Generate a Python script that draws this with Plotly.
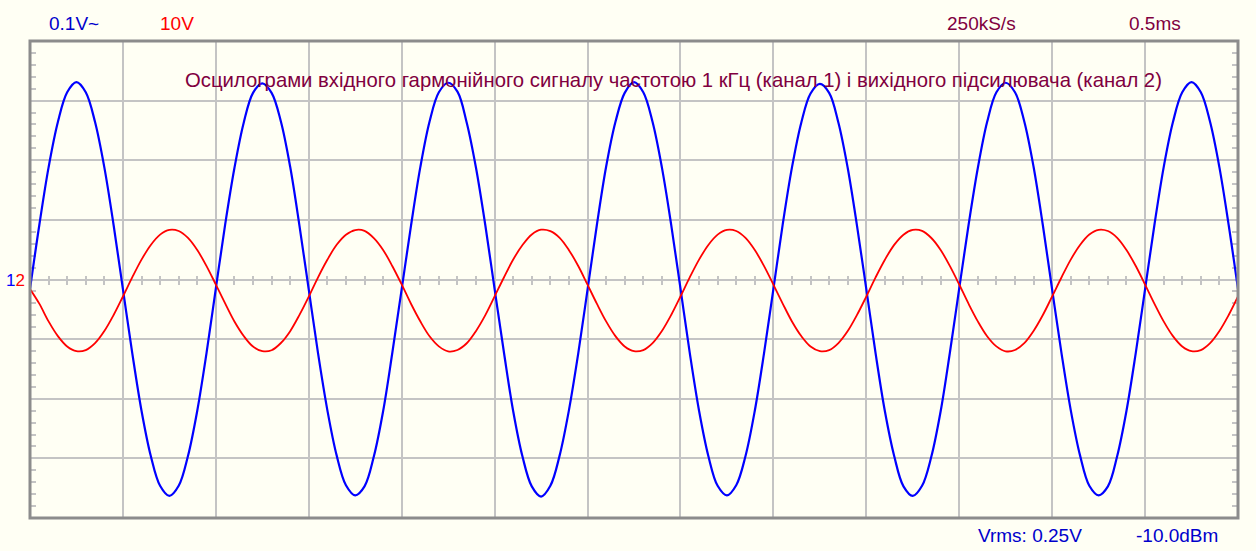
import plotly.graph_objects as go

# time axis (ms), 0.5 ms / div, 13 divisions
time_ms = [
    0.00, 0.05, 0.10, 0.15, 0.20, 0.25, 0.30, 0.35, 0.40, 0.45,
    0.50, 0.55, 0.60, 0.65, 0.70, 0.75, 0.80, 0.85, 0.90, 0.95,
    1.00, 1.05, 1.10, 1.15, 1.20, 1.25, 1.30, 1.35, 1.40, 1.45,
    1.50, 1.55, 1.60, 1.65, 1.70, 1.75, 1.80, 1.85, 1.90, 1.95,
    2.00, 2.05, 2.10, 2.15, 2.20, 2.25, 2.30, 2.35, 2.40, 2.45,
    2.50, 2.55, 2.60, 2.65, 2.70, 2.75, 2.80, 2.85, 2.90, 2.95,
    3.00, 3.05, 3.10, 3.15, 3.20, 3.25, 3.30, 3.35, 3.40, 3.45,
    3.50, 3.55, 3.60, 3.65, 3.70, 3.75, 3.80, 3.85, 3.90, 3.95,
    4.00, 4.05, 4.10, 4.15, 4.20, 4.25, 4.30, 4.35, 4.40, 4.45,
    4.50, 4.55, 4.60, 4.65, 4.70, 4.75, 4.80, 4.85, 4.90, 4.95,
    5.00, 5.05, 5.10, 5.15, 5.20, 5.25, 5.30, 5.35, 5.40, 5.45,
    5.50, 5.55, 5.60, 5.65, 5.70, 5.75, 5.80, 5.85, 5.90, 5.95,
    6.00, 6.05, 6.10, 6.15, 6.20, 6.25, 6.30, 6.35, 6.40, 6.45,
    6.50,
]

# channel 1 (input), volts, 0.1 V/div
ch1_volts = [
    -0.016, 0.091, 0.188, 0.264, 0.314, 0.331, 0.314, 0.264, 0.188, 0.091,
    -0.016, -0.123, -0.220, -0.296, -0.346, -0.363, -0.346, -0.296, -0.220, -0.123,
    -0.015, 0.092, 0.187, 0.263, 0.313, 0.329, 0.313, 0.265, 0.189, 0.090,
    -0.017, -0.124, -0.219, -0.295, -0.345, -0.362, -0.347, -0.297, -0.221, -0.122,
    -0.016, 0.090, 0.188, 0.265, 0.314, 0.330, 0.315, 0.263, 0.187, 0.091,
    -0.016, -0.122, -0.221, -0.297, -0.347, -0.364, -0.346, -0.295, -0.219, -0.124,
    -0.017, 0.091, 0.189, 0.264, 0.313, 0.331, 0.314, 0.264, 0.188, 0.092,
    -0.015, -0.123, -0.220, -0.296, -0.346, -0.362, -0.345, -0.296, -0.220, -0.123,
    -0.016, 0.092, 0.188, 0.263, 0.312, 0.328, 0.313, 0.263, 0.187, 0.090,
    -0.016, -0.124, -0.221, -0.296, -0.347, -0.363, -0.346, -0.297, -0.221, -0.122,
    -0.015, 0.091, 0.187, 0.264, 0.314, 0.330, 0.314, 0.265, 0.189, 0.091,
    -0.017, -0.123, -0.219, -0.295, -0.346, -0.362, -0.347, -0.296, -0.220, -0.123,
    -0.016, 0.091, 0.188, 0.264, 0.314, 0.331, 0.314, 0.264, 0.188, 0.091,
    -0.016,
]

# channel 2 (amplifier output), volts, 10 V/div
ch2_volts = [
    -1.60, -4.05, -7.03, -9.50, -11.23, -12.03, -11.84, -10.67, -8.64, -5.95,
    -2.85, 0.35, 3.33, 5.80, 7.53, 8.33, 8.14, 6.97, 4.94, 2.25,
    -0.85, -4.02, -7.05, -9.48, -11.25, -12.00, -11.86, -10.65, -8.66, -5.93,
    -2.87, 0.37, 3.31, 5.82, 7.51, 8.30, 8.16, 6.95, 4.96, 2.23,
    -0.83, -4.07, -7.01, -9.52, -11.21, -12.05, -11.82, -10.69, -8.62, -5.97,
    -2.83, 0.33, 3.35, 5.78, 7.55, 8.35, 8.12, 6.99, 4.92, 2.27,
    -0.87, -4.05, -7.03, -9.50, -11.23, -12.03, -11.84, -10.67, -8.64, -5.95,
    -2.85, 0.35, 3.33, 5.80, 7.53, 8.33, 8.14, 6.97, 4.94, 2.25,
    -0.85, -4.03, -7.04, -9.49, -11.24, -12.02, -11.85, -10.66, -8.65, -5.94,
    -2.86, 0.36, 3.32, 5.81, 7.52, 8.31, 8.15, 6.96, 4.95, 2.24,
    -0.84, -4.06, -7.02, -9.51, -11.22, -12.04, -11.83, -10.68, -8.63, -5.96,
    -2.84, 0.34, 3.34, 5.79, 7.54, 8.34, 8.13, 6.98, 4.93, 2.26,
    -0.85, -4.05, -7.03, -9.50, -11.23, -12.03, -11.84, -10.67, -8.64, -5.95,
    -2.85,
]

title_text = ("Осцилограми вхідного гармонійного сигналу частотою 1 кГц "
              "(канал 1) і вихідного підсилювача (канал 2)")
ch1_scale_label = "0.1V~"
ch2_scale_label = "10V"
rate_label = "250kS/s"
timebase_label = "0.5ms"
vrms_label = "Vrms: 0.25V"
dbm_label = "-10.0dBm"

BG = "#fffff4"
GRID = "#c4c4c4"
BORDER = "#8c8c8c"
MAROON = "#800040"
FONT = "Liberation Sans"

fig = go.Figure()
fig.add_trace(go.Scatter(x=time_ms, y=ch1_volts, mode="lines",
                         line=dict(color="#0000ff", width=2.2, shape="spline"),
                         xaxis="x", yaxis="y", hoverinfo="skip"))
fig.add_trace(go.Scatter(x=time_ms, y=ch2_volts, mode="lines",
                         line=dict(color="#ff0000", width=1.8, shape="spline"),
                         xaxis="x2", yaxis="y2", hoverinfo="skip"))

tick_common = dict(showticklabels=False, zeroline=False, showline=False,
                   tickcolor=GRID, tickwidth=2, layer="below traces")

fig.update_layout(
    width=1256, height=551, autosize=False,
    margin=dict(l=30, r=18, t=41, b=33),
    paper_bgcolor=BG, plot_bgcolor=BG,
    showlegend=False, hovermode=False,
    xaxis=dict(range=[0, 6.5], dtick=0.5, showgrid=True, gridcolor=GRID,
               gridwidth=2, anchor="free", position=0.5,
               ticks="outside", ticklen=4,
               minor=dict(dtick=0.1, ticks="outside", ticklen=4,
                          tickcolor=GRID, tickwidth=2, showgrid=False),
               **tick_common),
    xaxis2=dict(range=[0, 6.5], dtick=0.5, overlaying="x", showgrid=False,
                anchor="free", position=0.5, ticks="inside", ticklen=4,
                minor=dict(dtick=0.1, ticks="inside", ticklen=4,
                           tickcolor=GRID, tickwidth=2),
                **tick_common),
    yaxis=dict(range=[-0.4, 0.4], dtick=0.1, showgrid=True, gridcolor=GRID,
               gridwidth=2, anchor="x", side="left", ticks="inside", ticklen=6,
               minor=dict(dtick=0.02, ticks="inside", ticklen=6,
                          tickcolor=GRID, tickwidth=2, showgrid=False),
               **tick_common),
    yaxis2=dict(range=[-40, 40], dtick=10, overlaying="y", side="right",
                anchor="x2", showgrid=False, ticks="inside", ticklen=6,
                minor=dict(dtick=2, ticks="inside", ticklen=6,
                           tickcolor=GRID, tickwidth=2),
                **tick_common),
)

fig.add_shape(type="rect", xref="paper", yref="paper", x0=0, x1=1, y0=0, y1=1,
              line=dict(color=BORDER, width=3), layer="above")

def label(text, x, y, color, size=19, family=FONT):
    fig.add_annotation(text=text, xref="paper", yref="paper", x=x, y=y,
                       xanchor="center", yanchor="middle", showarrow=False,
                       font=dict(family=family, size=size, color=color))

label(ch1_scale_label, 0.0364, 1.036, "#0000cc")
label(ch2_scale_label, 0.1217, 1.036, "#ff0000")
label(rate_label, 0.788, 1.036, MAROON)
label(timebase_label, 0.9313, 1.036, MAROON)
label(title_text, 0.533, 0.918, MAROON, size=20.3)
label(vrms_label, 0.8278, -0.036, "#0000cc")
label(dbm_label, 0.9495, -0.036, "#0000cc")

fig.add_annotation(text="<span style='color:#0000ff'>1</span><span style='color:#ff0000'>2</span>",
                   xref="paper", yref="paper", x=0, y=0.498, xanchor="right",
                   yanchor="middle", xshift=-3, showarrow=False,
                   font=dict(family=FONT, size=17))

fig.write_html("out.html")
